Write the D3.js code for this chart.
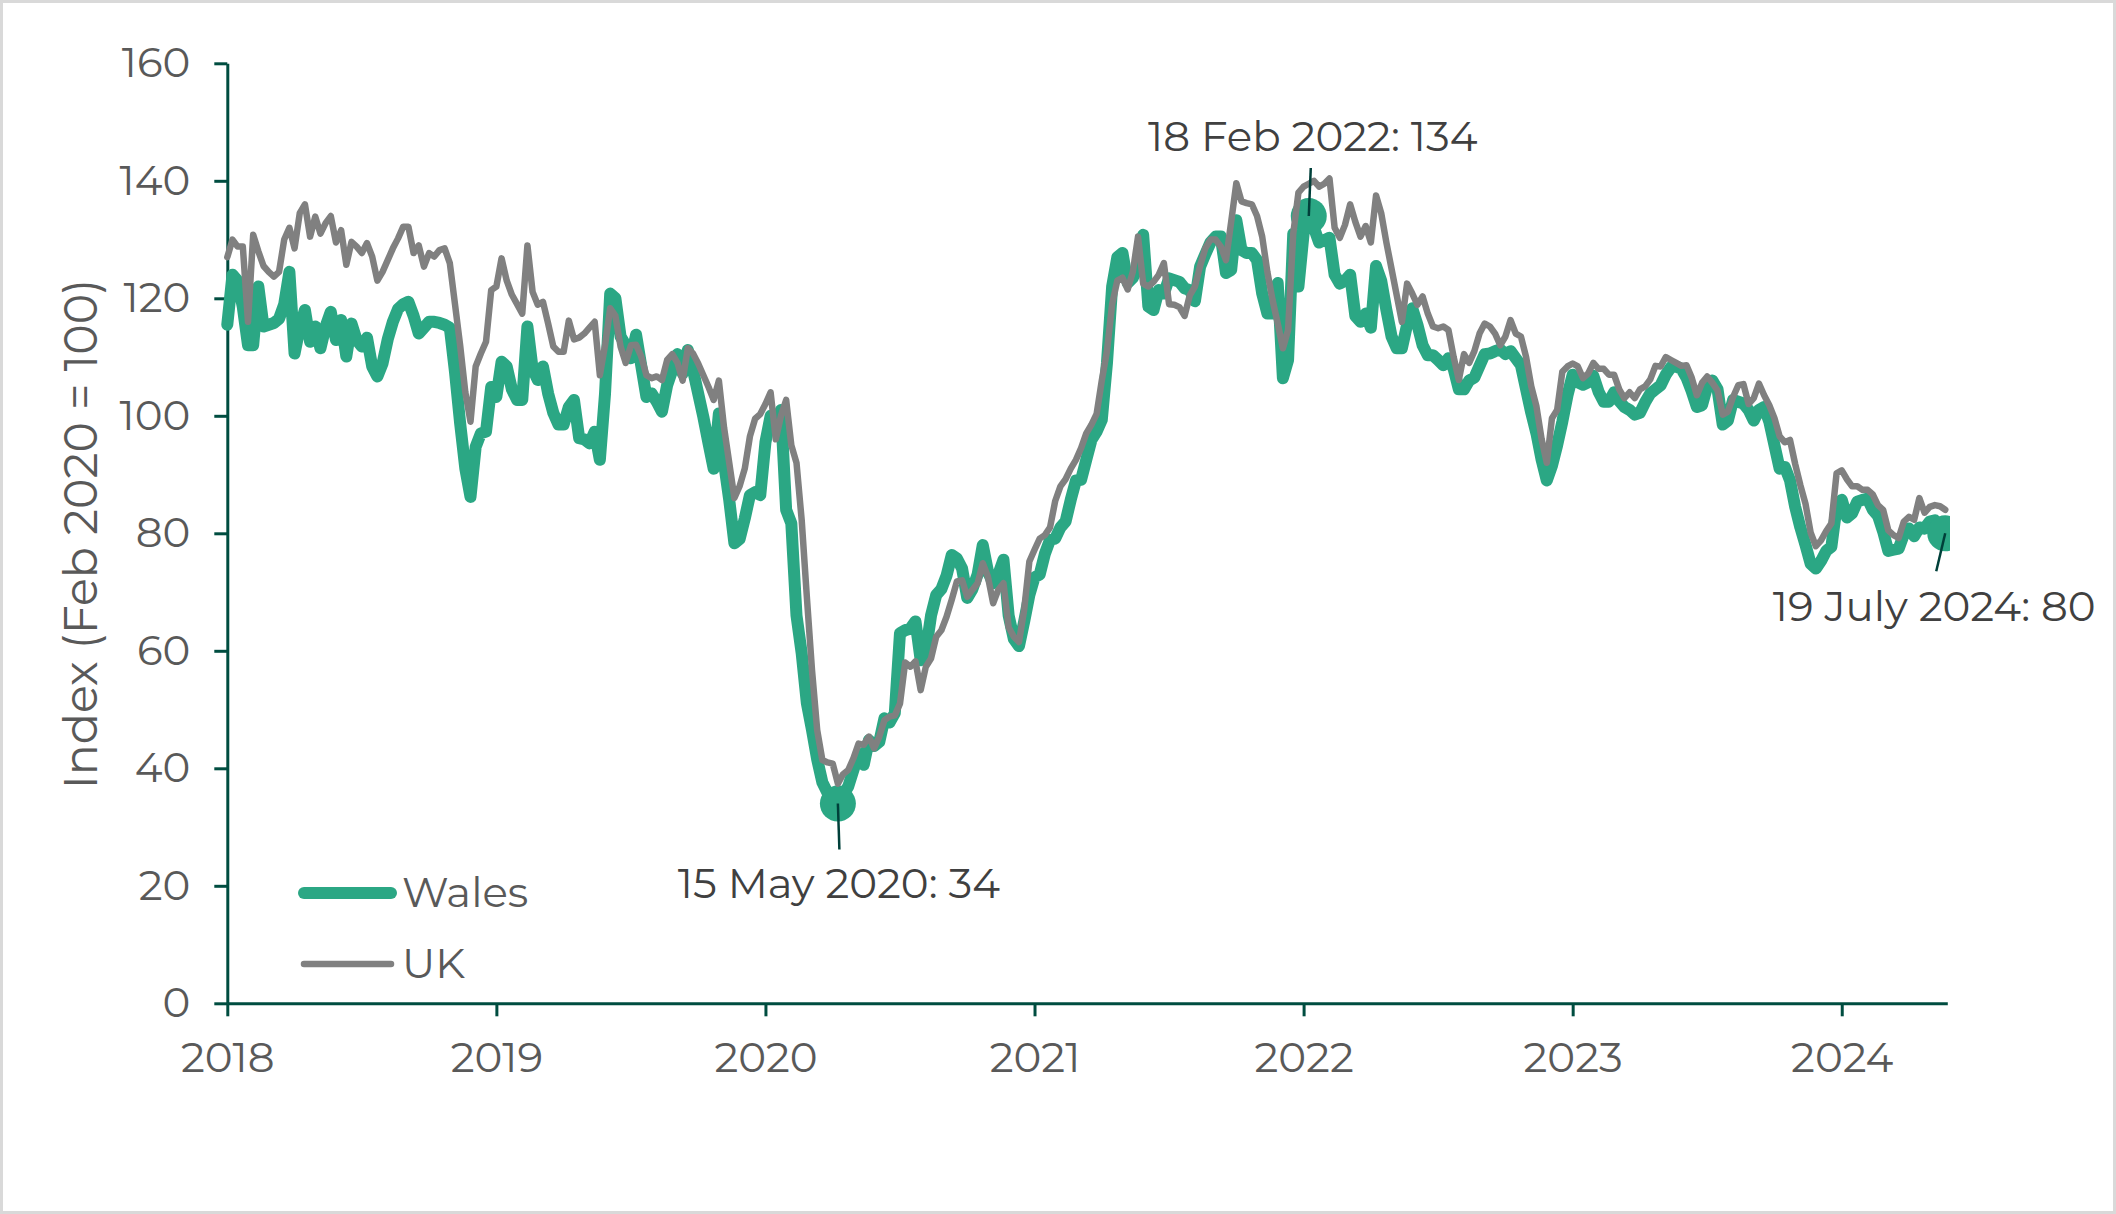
<!DOCTYPE html>
<html><head><meta charset="utf-8">
<script src="https://cdn.jsdelivr.net/npm/d3@7"></script>
<style>
html,body{margin:0;padding:0;background:#fff;}
svg{display:block;}
text{font-family:"Montserrat","Noto Sans",sans-serif;}
</style></head><body>
<svg id="chart" width="2116" height="1214"></svg>
<script>
// ---- data (weekly index, Feb 2020 = 100) ----
const yearLabels = ["2018","2019","2020","2021","2022","2023","2024"];
const yearWeeks = [0,52,104,156,208,260,312];
const yTicks = [0,20,40,60,80,100,120,140,160];
const seriesNames = ["Wales","UK"];

const wales = [
115.5,124,123,118.5,112,112,122,115.2,115.5,115.8,
116.5,119,124.5,110.6,115,118,112.6,115.2,111.5,115.2,
117.7,112.9,116.3,110.1,115.7,112.9,111.8,113.3,108.4,106.7,
108.9,113,116,118.2,119,119.4,117,114,115,116,
116,115.8,115.5,115,107.5,98.7,91,86.2,94.7,97,
97.3,104.9,103.2,109.2,108.4,104.5,102.7,102.7,115.2,108,
106.1,108.4,103.8,100.5,98.5,98.5,101.5,102.7,96.2,96,
95.3,97.3,92.5,103.8,120.8,120,113.5,112,109.8,113.8,
108.5,103.2,103.8,102.4,100.7,105.2,107.8,110.5,107.2,111.2,
107.8,103.8,99.8,95.3,91,100.4,92,85.7,78.3,79,
82.5,86.5,87,86.5,95.5,100,98,101,84,81.7,
66,59.6,51.1,46.5,41.5,37.6,35.8,34.6,34,35.5,
36.9,39.7,42.5,40.6,44.8,43.8,44.5,48.5,47.8,49.4,
63,63.5,63.8,65,58.4,59.9,66,69.5,70.5,72.8,
76.3,75.7,74,69,70.5,73,78,73.5,71.5,73,
75.5,66,62,60.8,65,69.5,72.5,73,76.5,78.9,
79.1,81,82,85.7,89,89.1,92.5,95.9,97.3,99.3,
109,122,127,127.7,122.6,123.5,125.5,130.8,118.6,118,
121.4,120.8,123.4,123.1,122.8,121.7,121.4,119.5,125.4,127.5,
129.5,130.5,130.5,124.3,124.8,133.3,128.2,127.7,127.7,126.5,
120.8,117.4,117.4,122.6,106.4,109.5,131,122,131,134,
132,129.5,129.9,130.3,124,122.5,123,124,117,116,
117.4,115,125.5,123,118,113.5,111.5,111.5,115.5,118.3,
115.5,112,110.3,110.3,109.5,108.6,109.8,108,104.5,104.5,
106,106.5,108.5,110.5,110.6,111,111.3,110.5,111,109.8,
108.6,104.5,100.5,97,92.5,89,91.5,95,99,103.5,
107,105.7,105.3,105.7,106.8,104.1,102.4,102.4,104,102.5,
101.5,101,100.2,100.5,102.3,103.8,104.5,105.2,107,108.3,
108.4,108,106.5,104.2,101.5,101.8,105,106,104.5,98.5,
99.2,102.7,102.4,102.1,101,99.2,101,101.5,99,95,
91,91.3,89,84.5,81,78,74.8,74,75.3,77,
77.7,84.5,85.7,82.7,83.4,85.4,85.7,85.9,84,83,
80.3,77,77.2,77.4,79.8,80.8,79.5,81,80.8,82,
82.2,81,80
];

const uk = [
127,130,128.8,128.8,116,130.8,128,125.5,124.5,123.7,
124.5,130,132,128.5,134.5,136,130.5,133.9,131,132.8,
134,129.5,131.6,125.7,129.6,128.8,127.7,129.4,127.1,123,
124.5,126.5,128.5,130.2,132.2,132.2,127.7,129,125.4,127.7,
127.1,128.2,128.5,126,119,112,104,99,108.4,110.6,
112.6,121.4,122,126.8,123,120.6,119,117.4,129,121.1,
118.9,119.4,115.7,111.8,110.9,110.9,116.2,113,113.3,114,
115,116,106.9,112,118.3,117,111.8,109,112,112.1,
110.1,106.9,106.4,106.7,106.1,109.5,110.5,109,106,111.5,
110.6,108.9,106.9,104.9,102.7,106,98,92,86,88,
91,96.5,99.5,100.3,102,104,96,100,102.7,95,
92,82.3,69.2,56.7,46.5,41.4,41,40.8,37.4,39,
39.7,41.7,44.2,44,45.4,43.4,45.4,48.2,48.8,49,
51,58,57.3,58.2,53.3,57.3,58.7,62.4,63.5,65.8,
68.7,71.8,72,69.2,70.4,71.5,74.9,72.6,68.1,70.4,
71.5,64,62.4,61.5,67,75.2,77.2,79.1,79.7,81,
85.5,88,89.2,91,92.5,94.5,97,98.5,100.3,106,
111,119,123,123.5,121.5,124.5,130.5,122.5,122,122.8,
124,126,119,118.9,118.5,117,120.5,122,125.5,128.5,
130,130,128.8,126.5,133,139.6,136.5,136.2,136,134,
130.5,124.5,119.7,115.7,111.5,114.6,131,138,139,139.5,
140,139,139.5,140.4,132,130.3,132.5,136,133,130.5,
132.3,129.5,137.5,134.5,129.5,125,120.5,116,122.5,120.8,
118.9,120.3,117.4,115.2,114.9,115.2,114.6,110,106.1,110.5,
109,111,114,115.7,115.2,114,112,113.5,116.3,114,
113.5,110,105,101.6,96,92,99.6,101,107.5,108.4,
108.9,108.4,106.4,107.2,109,108,108,107,107,104.5,
103,104,103,104.5,105,106.2,108.5,108.4,110,109.5,
109,108.5,108.6,106.5,103.5,105.6,106.7,105.6,104.3,100.2,
100.7,103.2,105.2,105.4,102,103,105.5,103.5,101.8,99.6,
96.5,95.5,95.9,91.8,88.2,85,80.1,77.8,78.8,80.4,
81.7,90.2,90.7,89.2,88,88,87.4,87.4,86.6,84.8,
84,80.5,79.7,79.2,82,82.8,82.3,86,83.5,84.5,
84.8,84.6,84
];

const annotIndex = [118, 209, 332];
const annotLabels = ["15 May 2020: 34", "18 Feb 2022: 134", "19 July 2024: 80"];

// ---- layout / styles ----
const W = 2116, H = 1214;
const plot = {left: 227.3, right: 1947.3, top: 63.3, bottom: 1003.3};
const C = {wales: "#2ba784", uk: "#808080", axis: "#004d40", tick: "#595959", annot: "#404040", lead: "#00403a"};
const FS = "42px";
const svg = d3.select("#chart");

svg.append("rect").attr("x",1.5).attr("y",1.5).attr("width",W-3).attr("height",H-3)
  .attr("fill","#fff").attr("stroke","#d9d9d9").attr("stroke-width",3);

const x = d3.scaleLinear().domain([0, 332.4]).range([plot.left, plot.right]);
const y = d3.scaleLinear().domain([0, 160]).range([plot.bottom, plot.top]);

// axes
const yAxis = d3.axisLeft(y).tickValues(yTicks).tickSize(13).tickSizeOuter(0).tickPadding(24);
const gy = svg.append("g").attr("transform",`translate(${plot.left},0)`).call(yAxis);
const xAxis = d3.axisBottom(x).tickValues(yearWeeks).tickFormat((d,i)=>yearLabels[i])
  .tickSize(13).tickSizeOuter(0).tickPadding(26);
const gx = svg.append("g").attr("transform",`translate(0,${plot.bottom})`).call(xAxis);
[gx, gy].forEach(g => {
  g.select(".domain").attr("stroke", C.axis).attr("stroke-width", 3);
  g.selectAll(".tick line").attr("stroke", C.axis).attr("stroke-width", 3);
  g.selectAll(".tick text").attr("fill", C.tick).style("font-size", FS)
   .style("font-family",'"Montserrat","Noto Sans",sans-serif');
});

// y title
svg.append("text").attr("transform",`translate(81,534) rotate(-90)`)
  .attr("text-anchor","middle").attr("dy","0.35em")
  .attr("fill", C.tick).style("font-size","46px").text("Index (Feb 2020 = 100)");

// clip
svg.append("clipPath").attr("id","clip").append("rect")
  .attr("x",0).attr("y",0).attr("width",1950).attr("height",H);
const gp = svg.append("g").attr("clip-path","url(#clip)");

const line = d3.line().x((d,i)=>x(i)).y(d=>y(d));
gp.append("path").datum(wales).attr("d", line).attr("fill","none")
  .attr("stroke", C.wales).attr("stroke-width", 12).attr("stroke-linejoin","round").attr("stroke-linecap","round");

gp.selectAll("circle.mk").data(annotIndex).join("circle").attr("class","mk")
  .attr("cx", d=>x(d)).attr("cy", d=>y(wales[d])).attr("r", 18).attr("fill", C.wales);

gp.append("path").datum(uk).attr("d", line).attr("fill","none")
  .attr("stroke", C.uk).attr("stroke-width", 6.5).attr("stroke-linejoin","round").attr("stroke-linecap","round");

// annotations (offsets relative to marker)
const leadOff = [[1.5, 46], [2, -48], [-9, 38]];
const textOff = [[1, 94], [4, -65], [-11, 88]];
annotIndex.forEach((d,i) => {
  const cx = x(d), cy = y(wales[d]);
  svg.append("line").attr("x1",cx).attr("y1",cy).attr("x2",cx+leadOff[i][0]).attr("y2",cy+leadOff[i][1])
    .attr("stroke", C.lead).attr("stroke-width", 2.5);
  svg.append("text").attr("x", cx+textOff[i][0]).attr("y", cy+textOff[i][1])
    .attr("text-anchor","middle").attr("fill", C.annot).style("font-size", FS).text(annotLabels[i]);
});

// legend
const leg = svg.append("g");
const legColors = [C.wales, C.uk], legWidths = [12, 6.5], legY = [893, 964];
seriesNames.forEach((n,i) => {
  leg.append("line").attr("x1",304).attr("x2",391).attr("y1",legY[i]).attr("y2",legY[i])
    .attr("stroke", legColors[i]).attr("stroke-width", legWidths[i]).attr("stroke-linecap","round");
  leg.append("text").attr("x",402).attr("y",legY[i]+14).attr("fill", C.tick)
    .style("font-size", FS).text(n);
});
</script>
</body></html>
